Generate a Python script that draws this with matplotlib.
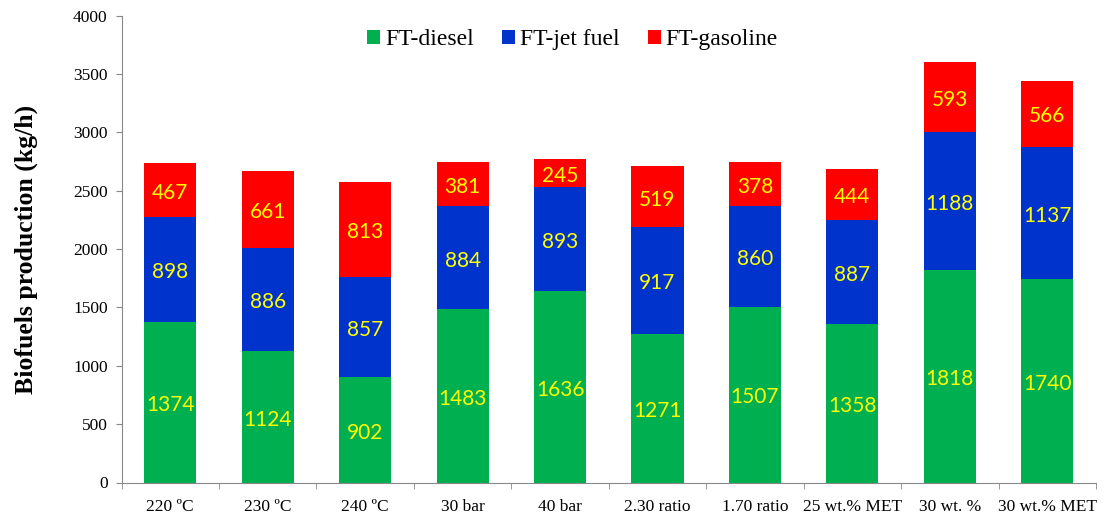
import matplotlib
matplotlib.use("Agg")
import matplotlib.pyplot as plt
import numpy as np

categories = ["220 ºC", "230 ºC", "240 ºC", "30 bar", "40 bar", "2.30 ratio",
              "1.70 ratio", "25 wt.% MET", "30 wt. %", "30 wt.% MET"]
diesel = [1374, 1124, 902, 1483, 1636, 1271, 1507, 1358, 1818, 1740]
jet = [898, 886, 857, 884, 893, 917, 860, 887, 1188, 1137]
gasoline = [467, 661, 813, 381, 245, 519, 378, 444, 593, 566]
series_names = ["FT-diesel", "FT-jet fuel", "FT-gasoline"]
colors = ["#00B050", "#0033CC", "#FF0000"]

fig = plt.figure(figsize=(11.04, 5.17), dpi=100)
ax = fig.add_axes([121.5/1104, (517-482.5)/517, (1096-121.5)/1104, (482.5-15.5)/517])

x = np.arange(len(categories))
w = 0.535
bottom = np.zeros(len(categories))
serif = ["Liberation Serif", "DejaVu Serif"]
for vals, name, c in zip([diesel, jet, gasoline], series_names, colors):
    vals = np.array(vals, dtype=float)
    ax.bar(x, vals, w, bottom=bottom, color=c, label=name, zorder=2)
    for xi, b, v in zip(x, bottom, vals):
        ax.annotate(f"{int(v)}", (xi, b + v / 2), xytext=(0, -2), textcoords="offset points",
                    ha="center", va="center", color="#FFFF00", fontsize=15,
                    family=["Lato", "DejaVu Sans"], zorder=3)
    bottom += vals

ax.set_xlim(-0.5, len(categories) - 0.5)
ax.set_ylim(0, 4000)
ax.set_yticks(np.arange(0, 4001, 500))
ax.set_xticks(x)
ax.set_xticklabels(categories, family=serif, fontsize=12.5)
ax.set_xticks(np.arange(-0.5, len(categories), 1), minor=True)
ax.tick_params(axis="x", which="major", length=0, pad=12)
ax.tick_params(axis="x", which="minor", length=4, color="#888888", direction="out")
ax.tick_params(axis="y", length=4, pad=6, color="#888888", direction="out")
for lbl in ax.get_yticklabels():
    lbl.set_family(serif)
    lbl.set_fontsize(12.5)
for s in ["top", "right"]:
    ax.spines[s].set_visible(False)
for s in ["left", "bottom"]:
    ax.spines[s].set_color("#888888")
ax.set_ylabel("Biofuels production (kg/h)", family=serif, fontsize=18.5,
              fontweight="bold")
ax.yaxis.set_label_coords(-0.086, 0.5)

leg = ax.legend(loc="center", bbox_to_anchor=(0.463, 0.948), ncol=3, frameon=False,
                prop={"family": serif, "size": 17}, handlelength=0.55, handleheight=0.55,
                columnspacing=1.2, handletextpad=0.2, borderpad=0)

fig.savefig("out.png", dpi=100)
